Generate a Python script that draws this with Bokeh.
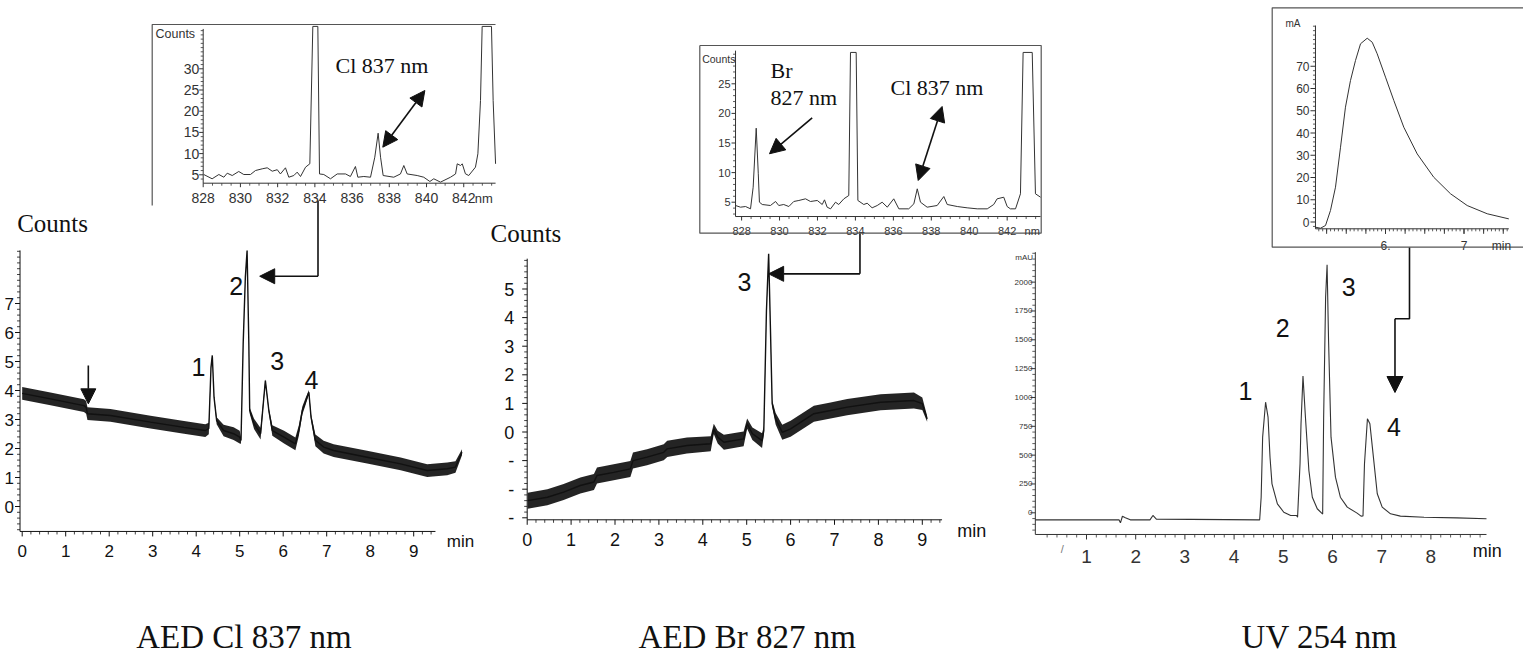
import numpy as np
from bokeh.plotting import figure
from bokeh.models import Range1d, Arrow, NormalHead
from bokeh.embed import file_html
from bokeh.resources import INLINE
from bokeh.core.properties import value

# ======================= DATA =======================
# --- AED Cl 837 nm chromatogram (time in min, counts) ---
cl_time = [0.00, 0.65, 1.42, 1.47, 1.50, 2.03, 2.95, 3.72, 4.21, 4.29,
           4.34, 4.37, 4.41, 4.47, 4.63, 4.86, 5.00, 5.03, 5.08, 5.13,
           5.17, 5.21, 5.23, 5.33, 5.48, 5.59, 5.67, 5.75, 6.02, 6.28,
           6.36, 6.44, 6.51, 6.59, 6.64, 6.74, 6.93, 7.16, 7.93, 8.70,
           9.31, 9.77, 9.96, 10.11]
cl_counts = [3.90, 3.71, 3.48, 3.42, 3.20, 3.14, 2.91, 2.73, 2.62, 2.69,
             4.80, 5.21, 3.77, 2.96, 2.62, 2.51, 2.39, 2.28, 5.61, 7.91,
             8.83, 5.61, 3.31, 2.85, 2.51, 4.34, 3.31, 2.62, 2.39, 2.16,
             2.62, 3.31, 3.60, 3.94, 3.08, 2.28, 2.05, 1.93, 1.70, 1.47,
             1.24, 1.30, 1.36, 1.87]
cl_noise = [0.22, 0.22, 0.22, 0.22, 0.22, 0.22, 0.22, 0.22, 0.22, 0.20,
            0.05, 0.03, 0.05, 0.12, 0.20, 0.22, 0.22, 0.12, 0.04, 0.03,
            0.02, 0.04, 0.10, 0.18, 0.20, 0.05, 0.08, 0.18, 0.22, 0.22,
            0.18, 0.14, 0.12, 0.08, 0.10, 0.20, 0.22, 0.22, 0.22, 0.22,
            0.22, 0.22, 0.20, 0.10]
cl_x_ticks = [0, 1, 2, 3, 4, 5, 6, 7, 8, 9]
cl_y_ticks = [0, 1, 2, 3, 4, 5, 6, 7]
cl_peak_names = ["1", "2", "3", "4"]

# --- inset: emission spectrum of peak 2 (nm, counts) ---
cl_nm = [828.03, 828.48, 828.84, 829.11, 829.29, 829.56, 829.91, 830.18, 830.54, 830.81,
         831.17, 831.44, 831.71, 831.98, 832.15, 832.42, 832.60, 832.87, 833.05, 833.23,
         833.50, 833.73, 833.89, 834.16, 834.25, 834.48, 834.84, 835.20, 835.65, 835.91,
         836.18, 836.31, 836.63, 836.99, 837.22, 837.40, 837.53, 837.67, 838.24, 838.60,
         838.78, 838.96, 839.50, 839.85, 840.18, 840.39, 840.75, 841.29, 841.56, 841.65,
         841.83, 841.92, 842.09, 842.27, 842.63, 842.76, 842.90, 842.99, 843.49, 843.58,
         843.71]
cl_spec = [5.07, 4.06, 5.07, 4.43, 5.38, 4.83, 5.78, 5.07, 5.07, 6.01,
           6.41, 6.65, 5.85, 6.20, 5.20, 6.65, 4.43, 4.83, 5.62, 4.60,
           6.80, 7.60, 40.0, 40.0, 5.20, 5.07, 4.06, 5.20, 5.20, 4.60,
           6.96, 4.43, 4.60, 4.43, 9.15, 14.81, 9.15, 4.83, 4.43, 5.20,
           7.19, 5.20, 4.83, 4.43, 3.42, 4.06, 3.27, 4.43, 5.20, 7.59,
           7.19, 7.59, 5.24, 4.83, 6.80, 9.95, 22.5, 40.0, 40.0, 22.5,
           7.59]
spec_x_ticks = [828, 830, 832, 834, 836, 838, 840, 842]
cl_spec_y_ticks = [5, 10, 15, 20, 25, 30]

# --- AED Br 827 nm chromatogram ---
br_time = [0.01, 0.46, 0.83, 1.21, 1.52, 1.59, 1.97, 2.35, 2.41, 2.73,
           3.11, 3.19, 3.64, 4.18, 4.25, 4.34, 4.48, 4.93, 5.01, 5.13,
           5.35, 5.39, 5.45, 5.50, 5.54, 5.58, 5.66, 5.81, 6.00, 6.53,
           6.91, 7.29, 8.05, 8.81, 9.00, 9.11]
br_counts = [-2.40, -2.28, -2.10, -1.87, -1.75, -1.52, -1.41, -1.29, -1.00, -0.88,
             -0.71, -0.59, -0.47, -0.41, 0.11, -0.18, -0.36, -0.24, 0.29, -0.06,
             -0.30, 0.05, 4.25, 6.23, 3.66, 0.99, 0.46, -0.01, 0.11, 0.64,
             0.75, 0.87, 1.04, 1.10, 0.99, 0.46]
br_noise = [0.28, 0.28, 0.28, 0.28, 0.28, 0.28, 0.28, 0.28, 0.28, 0.28,
            0.28, 0.28, 0.28, 0.26, 0.18, 0.22, 0.26, 0.26, 0.18, 0.22,
            0.26, 0.15, 0.05, 0.03, 0.05, 0.12, 0.20, 0.26, 0.28, 0.28,
            0.28, 0.28, 0.28, 0.28, 0.22, 0.10]
br_x_ticks = [0, 1, 2, 3, 4, 5, 6, 7, 8, 9]
br_y_ticks = [5, 4, 3, 2, 1, 0, -1, -2, -3]
br_y_labels = ["5", "4", "3", "2", "1", "0", "-", "-", "-"]

# --- inset: emission spectrum of peak 3 ---
br_nm = [827.68, 827.94, 828.21, 828.47, 828.61, 828.77, 828.88, 828.94, 829.09, 829.52,
         829.79, 829.96, 830.22, 830.49, 830.75, 831.02, 831.37, 831.63, 831.99, 832.25,
         832.37, 832.51, 832.69, 832.95, 833.12, 833.39, 833.65, 833.74, 834.04, 834.13,
         834.44, 834.62, 834.88, 835.15, 835.41, 835.68, 836.02, 836.29, 836.81, 837.08,
         837.26, 837.43, 837.78, 838.31, 838.66, 838.84, 839.37, 839.89, 840.42, 840.95,
         841.29, 841.47, 841.82, 842.00, 842.17, 842.44, 842.70, 842.84, 843.32, 843.49,
         843.76]
br_spec = [4.44, 4.16, 4.27, 3.88, 7.53, 17.5, 9.8, 5.0, 4.61, 4.44,
           5.12, 4.44, 4.61, 4.27, 5.12, 5.29, 5.57, 5.12, 5.29, 4.61,
           5.40, 4.16, 3.88, 5.0, 4.61, 5.57, 6.13, 30.3, 30.3, 5.29,
           4.61, 4.83, 4.05, 4.44, 5.0, 4.16, 5.57, 3.88, 3.88, 4.72,
           7.26, 5.0, 4.16, 4.44, 5.96, 4.61, 4.27, 4.05, 3.88, 3.88,
           4.61, 5.57, 5.84, 4.27, 3.88, 3.88, 6.42, 30.3, 30.3, 6.42,
           5.84]
br_spec_y_ticks = [5, 10, 15, 20, 25]

# --- UV 254 nm chromatogram (min, mAU) ---
uv_time = [-0.04, 1.66, 1.69, 1.73, 1.79, 1.89, 2.29, 2.35, 2.42, 4.52,
           4.55, 4.58, 4.64, 4.69, 4.73, 4.77, 4.88, 5.01, 5.15, 5.27,
           5.29, 5.34, 5.36, 5.40, 5.45, 5.52, 5.59, 5.69, 5.78, 5.80,
           5.82, 5.86, 5.89, 5.92, 5.97, 6.06, 6.16, 6.30, 6.50, 6.58,
           6.62, 6.65, 6.71, 6.76, 6.81, 6.91, 7.01, 7.18, 7.38, 7.86,
           8.53, 9.13]
uv_mau = [-61, -61, -87, -30, -43, -61, -61, -23, -55, -61,
          135, 656, 959, 829, 482, 251, 78, 5, -23, -23,
          -38, 425, 772, 1185, 829, 367, 135, 35, -3, -10,
          829, 1869, 2150, 1494, 656, 309, 135, 49, -3, -29,
          -27, 425, 815, 772, 569, 165, 49, -9, -29, -38,
          -44, -52]
uv_x_ticks = [1, 2, 3, 4, 5, 6, 7, 8]
uv_y_ticks = [0, 250, 500, 750, 1000, 1250, 1500, 1750, 2000]
uv_peak_names = ["1", "2", "3", "4"]

# --- inset: UV peak 4 enlarged (min, mA) ---
uvz_time = [5.108, 5.172, 5.236, 5.299, 5.363, 5.427, 5.490, 5.554, 5.618, 5.682,
            5.767, 5.831, 5.894, 6.000, 6.106, 6.233, 6.404, 6.615, 6.828, 7.041,
            7.296, 7.571]
uvz_ma = [-2.34, -2.79, -1.57, 5.17, 15.64, 33.62, 51.6, 63.6, 72.6, 80.1,
          82.6, 80.8, 75.6, 65.1, 54.6, 42.6, 30.6, 20.1, 12.7, 7.4,
          3.7, 1.4]
uvz_x_ticks = [6, 7]
uvz_x_labels = ["6.", "7"]
uvz_y_ticks = [0, 10, 20, 30, 40, 50, 60, 70]

# ======================= FIGURE =======================
W, H, M = 1523, 654, 0
p = figure(width=W, height=H, x_range=Range1d(0, W), y_range=Range1d(H, 0),
           output_backend="svg", toolbar_location=None, min_border=0,
           x_axis_location=None, y_axis_location=None)
p.outline_line_color = None
p.grid.visible = False
p.background_fill_color = "white"
p.border_fill_color = "white"

SANS = value("Liberation Sans")
SERIF = value("Liberation Serif")
INK = "#111111"
GREY = "#333333"
BOX = "#555555"

xr, yr = {}, {}


def panel(name, xa, XA, kx, yb, YB, ky):
    """data value xa sits at window pixel XA (kx px per unit); yb at window row YB."""
    sx = xa - (XA - M) / kx
    sy = yb - (M + H - YB) / ky
    xr[name] = Range1d(start=sx, end=sx + W / kx)
    yr[name] = Range1d(start=sy, end=sy + H / ky)
    return {"x_range_name": name, "y_range_name": name}, kx, ky


def draw_axes(kw, kx, ky, x0, x1, y0, y1, xt, xl, yt, yl, xminor, yminor,
              fsx, fsy, xbase, yoff, color=INK, lw=1.0, maj=5, mnr=3):
    p.line([x0, x1], [y0, y0], line_color=color, line_width=lw, **kw)
    p.line([x0, x0], [y0, y1], line_color=color, line_width=lw, **kw)
    xm = [v for v in xminor if all(abs(v - t) > 1e-6 for t in xt)]
    ym = [v for v in yminor if all(abs(v - t) > 1e-6 for t in yt)]
    p.segment(x0=xt, y0=[y0] * len(xt), x1=xt, y1=[y0 - maj / ky] * len(xt),
              line_color=color, line_width=lw, **kw)
    p.segment(x0=xm, y0=[y0] * len(xm), x1=xm, y1=[y0 - mnr / ky] * len(xm),
              line_color=color, line_width=lw * 0.8, **kw)
    p.segment(x0=[x0] * len(yt), y0=yt, x1=[x0 - maj / kx] * len(yt), y1=yt,
              line_color=color, line_width=lw, **kw)
    p.segment(x0=[x0] * len(ym), y0=ym, x1=[x0 - mnr / kx] * len(ym), y1=ym,
              line_color=color, line_width=lw * 0.8, **kw)
    p.text(x=xt, y=[y0] * len(xt), text=xl, y_offset=xbase, text_align="center",
           text_baseline="alphabetic", text_font=SANS, text_font_size=f"{fsx}px",
           text_color=color, **kw)
    p.text(x=[x0] * len(yt), y=yt, text=yl, x_offset=-yoff, text_align="right",
           text_baseline="middle", text_font=SANS, text_font_size=f"{fsy}px",
           text_color=color, **kw)


def label(kw, x, y, txt, size, font=SANS, align="center", baseline="alphabetic",
          color=INK):
    p.text(x=[x], y=[y], text=[txt], text_font=font, text_font_size=f"{size}px",
           text_align=align, text_baseline=baseline, text_color=color, **kw)


def head(size=14):
    return NormalHead(size=size, fill_color=INK, line_color=INK, line_width=1)


def arrow(kw, xs, ys, xe, ye, start=False, size=14, lw=1.6):
    a = Arrow(x_start=xs, y_start=ys, x_end=xe, y_end=ye, end=head(size),
              start=head(size) if start else None, line_color=INK, line_width=lw, **kw)
    p.add_layout(a)


def noisy(kw, t, y, n):
    t, y, n = np.asarray(t), np.asarray(y), np.asarray(n)
    p.varea(x=t, y1=y - n, y2=y + n, fill_color=INK, fill_alpha=0.92, **kw)
    p.line(t, y, line_color=INK, line_width=1.4, **kw)


def mrange(a, b, step):
    return list(np.round(np.arange(a, b + step / 2, step), 4))


# ---------------- panel 1 : AED Cl 837 nm ----------------
k1, kx1, ky1 = panel("p1", 0, 21.7, 43.5, 0, 506, 29)
noisy(k1, cl_time, cl_counts, cl_noise)
draw_axes(k1, kx1, ky1, -0.05, 9.5, -0.86, 8.83,
          cl_x_ticks, [str(v) for v in cl_x_ticks],
          cl_y_ticks, [str(v) for v in cl_y_ticks],
          mrange(0, 9.4, 0.2), mrange(-0.8, 8.8, 0.2), 17, 17, 20, 6)
for name, (lx, ly) in zip(cl_peak_names, [(4.05, 4.80), (4.92, 7.62), (5.86, 5.03), (6.65, 4.37)]):
    label(k1, lx, ly, name, 25)
arrow(k1, 1.52, 4.86, 1.52, 3.54, size=15)
p.line([6.80, 6.80], [10.55, 7.94], line_color=INK, line_width=1.6, **k1)
arrow(k1, 6.80, 7.94, 5.46, 7.94, size=15)
label({}, 460, 541, "min", 17, baseline="middle")
label({}, 16.7, 223, "Counts", 25, font=SERIF, align="left")

# ---------------- inset 1 : Cl spectrum ----------------
ki1, kxi1, kyi1 = panel("i1", 828, 202.7, 18.61, 5, 174.3, 4.24)
p.line(cl_nm, cl_spec, line_color=GREY, line_width=1.0, **ki1)
draw_axes(ki1, kxi1, kyi1, 828, 843.71, 3.02, 39.4,
          spec_x_ticks, [str(v) for v in spec_x_ticks],
          cl_spec_y_ticks, [str(v) for v in cl_spec_y_ticks],
          mrange(828, 843.5, 0.5), mrange(4, 39, 1), 14, 14, 15, 4, color=GREY,
          maj=4, mnr=2.5)
p.line([151.7, 151.7, 495], [205, 24, 24], line_color=BOX, line_width=1.2)
label({}, 483.3, 198.3, "nm", 13, color=GREY)
label({}, 155, 33, "Counts", 12.5, align="left", baseline="middle", color=GREY)
label({}, 335, 65, "Cl 837 nm", 22, font=SERIF, align="left")
arrow(ki1, 839.91, 24.88, 837.65, 11.51, start=True, size=15)

# ---------------- panel 2 : AED Br 827 nm ----------------
k2, kx2, ky2 = panel("p2", 0, 526.7, 43.9, 0, 431.5, 28.6)
noisy(k2, br_time, br_counts, br_noise)
draw_axes(k2, kx2, ky2, 0, 9.45, -3.07, 6.06,
          br_x_ticks, [str(v) for v in br_x_ticks],
          br_y_ticks, br_y_labels,
          mrange(0, 9.4, 0.2), mrange(-3.0, 6.0, 0.2), 18, 18, 20, 13)
label(k2, 4.95, 5.24, "3", 25)
p.line([7.58, 7.58], [6.95, 5.53], line_color=INK, line_width=1.6, **k2)
arrow(k2, 7.58, 5.53, 5.50, 5.53, size=15)
label({}, 956.7, 530, "min", 18, align="left", baseline="middle")
label({}, 490, 233, "Counts", 25, font=SERIF, align="left")

# ---------------- inset 2 : Br spectrum ----------------
ki2, kxi2, kyi2 = panel("i2", 828, 741.1, 18.97, 5, 201.7, 5.92)
p.line(br_nm, br_spec, line_color=GREY, line_width=1.0, **ki2)
draw_axes(ki2, kxi2, kyi2, 827.68, 843.76, 2.58, 30.6,
          spec_x_ticks, [str(v) for v in spec_x_ticks],
          br_spec_y_ticks, [str(v) for v in br_spec_y_ticks],
          mrange(828, 843.5, 0.5), mrange(3, 30, 1), 11, 11, 14.5, 5, color=GREY,
          maj=4, mnr=2.5)
p.line([699.3, 1040.7, 1040.7, 699.3, 699.3], [45, 45, 232.7, 232.7, 45],
       line_color=BOX, line_width=1.2)
label({}, 1031.7, 230.7, "nm", 11, color=GREY)
label({}, 701.7, 58.3, "Counts", 10.5, align="left", baseline="middle", color=GREY)
label({}, 770, 70, "Br", 22, font=SERIF, align="left")
label({}, 770, 96.7, "827 nm", 22, font=SERIF, align="left")
label({}, 890, 87.3, "Cl 837 nm", 22, font=SERIF, align="left")
arrow(ki2, 831.72, 19.26, 829.47, 13.18, size=15)
arrow(ki2, 838.57, 21.17, 837.31, 8.67, start=True, size=15)

# ---------------- panel 3 : UV 254 nm ----------------
k3, kx3, ky3 = panel("p3", 0, 1036.8, 49.2, 0, 512.3, 0.11533)
p.line(uv_time, uv_mau, line_color=GREY, line_width=1.1, **k3)
draw_axes(k3, kx3, ky3, -0.04, 9.13, -188, 2260,
          uv_x_ticks, [str(v) for v in uv_x_ticks],
          uv_y_ticks, [str(v) for v in uv_y_ticks],
          mrange(0.2, 9.0, 0.2), mrange(-150, 2250, 50), 19, 8, 22, 3,
          color=GREY, maj=5, mnr=3)
for name, (lx, ly) in zip(uv_peak_names, [(4.23, 1060), (4.99, 1604), (6.33, 1956), (7.25, 742)]):
    label(k3, lx, ly, name, 25)
p.line([7.565, 7.565, 7.27], [2303, 1682, 1682], line_color=INK, line_width=1.6, **k3)
arrow(k3, 7.27, 1682, 7.27, 1043, size=16)
label({}, 1486.7, 550, "min", 18, baseline="middle")
label({}, 1032.5, 256.7, "mAU", 8, align="right", baseline="middle", color=GREY)
label({}, 1061.7, 548, "/", 11, color="#777777")

# ---------------- inset 3 : UV peak zoom ----------------
ki3, kxi3, kyi3 = panel("i3", 6, 1385, 78.5, 0, 221.5, 2.225)
p.line(uvz_time, uvz_ma, line_color=GREY, line_width=1.0, **ki3)
draw_axes(ki3, kxi3, kyi3, 5.108, 7.571, -3.06, 88.3,
          uvz_x_ticks, uvz_x_labels,
          uvz_y_ticks, [str(v) for v in uvz_y_ticks],
          mrange(5.15, 7.55, 0.05), mrange(-2, 88, 2), 12, 12, 16.5, 6,
          color=GREY, maj=5, mnr=2.5)
mj3 = mrange(5.25, 7.5, 0.25)
p.segment(x0=mj3, y0=[-3.06] * len(mj3), x1=mj3, y1=[-3.06 - 5 / kyi3] * len(mj3),
          line_color=GREY, line_width=1, **ki3)
p.line([1523, 1271.7, 1271.7, 1523], [7.3, 7.3, 246.7, 246.7],
       line_color=BOX, line_width=1.2)
label({}, 1501, 245, "min", 12, color=GREY)
label({}, 1285, 23, "mA", 10, align="left", baseline="middle", color=GREY)

# ---------------- titles ----------------
label({}, 243.4, 636, "AED Cl 837 nm", 33, font=SERIF)
label({}, 746.7, 636, "AED Br 827 nm", 33, font=SERIF)
label({}, 1319, 636, "UV 254 nm", 33, font=SERIF)

p.extra_x_ranges = xr
p.extra_y_ranges = yr

open("out.html", "w").write(file_html(p, INLINE))
